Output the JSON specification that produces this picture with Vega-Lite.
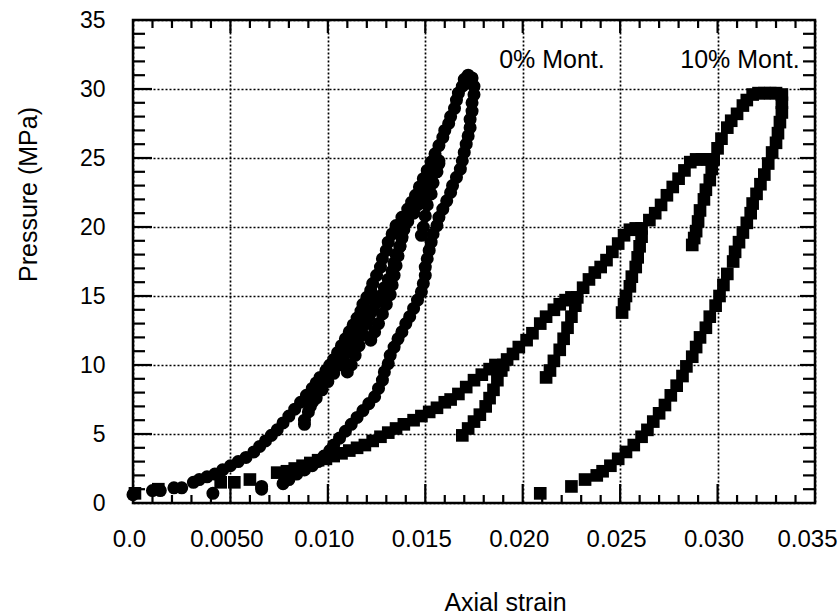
{
 "$schema": "https://vega.github.io/schema/vega-lite/v6.json",
 "width": 682, "height": 483,
 "autosize": {"type": "none"},
 "padding": {"left": 133, "top": 20, "right": 25, "bottom": 112},
 "background": "white",
 "config": {
  "view": {"stroke": "black", "strokeWidth": 2.5},
  "font": "Liberation Sans",
  "axis": {"domain": false, "labelColor": "black", "titleColor": "black",
   "labelFont": "Liberation Sans", "titleFont": "Liberation Sans", "titleFontWeight": "normal",
   "gridColor": "black", "gridDash": [2, 2], "gridWidth": 1.7, "gridOpacity": 1,
   "labelFlush": false, "labelOverlap": false}
 },
 "datasets": {
  "xmajor": [{"v":0.005},{"v":0.010},{"v":0.015},{"v":0.020},{"v":0.025},{"v":0.030}],
  "xminor": [{"v":0.001},{"v":0.002},{"v":0.003},{"v":0.004},{"v":0.006},{"v":0.007},{"v":0.008},{"v":0.009},
   {"v":0.011},{"v":0.012},{"v":0.013},{"v":0.014},{"v":0.016},{"v":0.017},{"v":0.018},{"v":0.019},
   {"v":0.021},{"v":0.022},{"v":0.023},{"v":0.024},{"v":0.026},{"v":0.027},{"v":0.028},{"v":0.029},
   {"v":0.031},{"v":0.032},{"v":0.033},{"v":0.034}],
  "ymajor": [{"v":5},{"v":10},{"v":15},{"v":20},{"v":25},{"v":30}],
  "yminor": [{"v":1},{"v":2},{"v":3},{"v":4},{"v":6},{"v":7},{"v":8},{"v":9},{"v":11},{"v":12},{"v":13},{"v":14},
   {"v":16},{"v":17},{"v":18},{"v":19},{"v":21},{"v":22},{"v":23},{"v":24},{"v":26},{"v":27},{"v":28},{"v":29},
   {"v":31},{"v":32},{"v":33},{"v":34}],
  "pts": [
{"s":"0%","x":0.0000,"y":0.6},{"s":"0%","x":0.0010,"y":0.9},{"s":"0%","x":0.0014,"y":0.9},{"s":"0%","x":0.0021,"y":1.1},{"s":"0%","x":0.0025,"y":1.1},
{"s":"0%","x":0.0031,"y":1.5},{"s":"0%","x":0.0034,"y":1.7},{"s":"0%","x":0.0038,"y":1.9},{"s":"0%","x":0.0042,"y":2.1},{"s":"0%","x":0.0046,"y":2.4},
{"s":"0%","x":0.0050,"y":2.7},{"s":"0%","x":0.0054,"y":3.0},{"s":"0%","x":0.0058,"y":3.3},{"s":"0%","x":0.0062,"y":3.7},{"s":"0%","x":0.0065,"y":4.1},
{"s":"0%","x":0.0068,"y":4.5},{"s":"0%","x":0.0071,"y":4.9},{"s":"0%","x":0.0074,"y":5.3},{"s":"0%","x":0.0077,"y":5.8},{"s":"0%","x":0.0080,"y":6.3},
{"s":"0%","x":0.0083,"y":6.8},{"s":"0%","x":0.0086,"y":7.3},{"s":"0%","x":0.0089,"y":7.8},{"s":"0%","x":0.0092,"y":8.3},{"s":"0%","x":0.0094,"y":8.7},
{"s":"0%","x":0.0096,"y":9.1},{"s":"0%","x":0.0099,"y":9.6},{"s":"0%","x":0.0101,"y":10.0},{"s":"0%","x":0.0103,"y":10.4},
{"s":"0%","x":0.0105,"y":10.9},{"s":"0%","x":0.0107,"y":11.4},{"s":"0%","x":0.0109,"y":11.9},{"s":"0%","x":0.0111,"y":12.4},{"s":"0%","x":0.0113,"y":12.9},
{"s":"0%","x":0.0115,"y":13.4},{"s":"0%","x":0.0117,"y":13.9},{"s":"0%","x":0.0118,"y":14.4},{"s":"0%","x":0.0120,"y":14.9},{"s":"0%","x":0.0122,"y":15.4},
{"s":"0%","x":0.0123,"y":15.9},{"s":"0%","x":0.0125,"y":16.5},{"s":"0%","x":0.0127,"y":17.1},{"s":"0%","x":0.0128,"y":17.7},{"s":"0%","x":0.0130,"y":18.3},
{"s":"0%","x":0.0131,"y":18.9},{"s":"0%","x":0.0133,"y":19.5},{"s":"0%","x":0.0135,"y":20.1},{"s":"0%","x":0.0138,"y":20.7},{"s":"0%","x":0.0141,"y":21.3},
{"s":"0%","x":0.0143,"y":21.8},{"s":"0%","x":0.0145,"y":22.3},{"s":"0%","x":0.0147,"y":22.9},{"s":"0%","x":0.0149,"y":23.5},{"s":"0%","x":0.0151,"y":24.1},
{"s":"0%","x":0.0153,"y":24.7},{"s":"0%","x":0.0155,"y":25.3},{"s":"0%","x":0.0157,"y":25.9},{"s":"0%","x":0.0159,"y":26.5},{"s":"0%","x":0.0160,"y":27.0},
{"s":"0%","x":0.0162,"y":27.5},{"s":"0%","x":0.0163,"y":28.0},{"s":"0%","x":0.0165,"y":28.6},{"s":"0%","x":0.0166,"y":29.2},{"s":"0%","x":0.0167,"y":29.7},
{"s":"0%","x":0.0169,"y":30.2},{"s":"0%","x":0.0170,"y":30.7},{"s":"0%","x":0.0172,"y":31.0},{"s":"0%","x":0.0174,"y":30.8},
{"s":"0%","x":0.0100,"y":9.4},{"s":"0%","x":0.0097,"y":8.7},{"s":"0%","x":0.0094,"y":8.0},{"s":"0%","x":0.0092,"y":7.3},{"s":"0%","x":0.0090,"y":6.6},
{"s":"0%","x":0.0088,"y":6.0},{"s":"0%","x":0.0088,"y":5.7},
{"s":"0%","x":0.0091,"y":7.0},{"s":"0%","x":0.0094,"y":7.6},{"s":"0%","x":0.0097,"y":8.2},{"s":"0%","x":0.0100,"y":8.8},{"s":"0%","x":0.0103,"y":9.4},
{"s":"0%","x":0.0106,"y":10.0},{"s":"0%","x":0.0108,"y":10.5},{"s":"0%","x":0.0111,"y":11.0},{"s":"0%","x":0.0113,"y":11.5},{"s":"0%","x":0.0115,"y":12.0},
{"s":"0%","x":0.0117,"y":12.5},{"s":"0%","x":0.0119,"y":13.0},{"s":"0%","x":0.0121,"y":13.5},{"s":"0%","x":0.0123,"y":14.0},{"s":"0%","x":0.0125,"y":14.5},
{"s":"0%","x":0.0127,"y":15.0},{"s":"0%","x":0.0129,"y":15.6},{"s":"0%","x":0.0131,"y":16.2},{"s":"0%","x":0.0133,"y":16.8},{"s":"0%","x":0.0134,"y":17.4},
{"s":"0%","x":0.0135,"y":18.0},{"s":"0%","x":0.0137,"y":18.6},{"s":"0%","x":0.0138,"y":19.2},{"s":"0%","x":0.0139,"y":19.8},{"s":"0%","x":0.0141,"y":20.4},
{"s":"0%","x":0.0144,"y":21.0},{"s":"0%","x":0.0146,"y":21.6},{"s":"0%","x":0.0149,"y":22.2},{"s":"0%","x":0.0151,"y":22.8},{"s":"0%","x":0.0153,"y":23.4},
{"s":"0%","x":0.0155,"y":24.0},{"s":"0%","x":0.0157,"y":24.6},
{"s":"0%","x":0.0124,"y":14.6},{"s":"0%","x":0.0122,"y":13.8},{"s":"0%","x":0.0120,"y":13.0},{"s":"0%","x":0.0118,"y":12.2},{"s":"0%","x":0.0116,"y":11.4},
{"s":"0%","x":0.0114,"y":10.7},{"s":"0%","x":0.0112,"y":10.0},{"s":"0%","x":0.0110,"y":9.5},
{"s":"0%","x":0.0139,"y":20.0},{"s":"0%","x":0.0138,"y":19.3},{"s":"0%","x":0.0137,"y":18.6},{"s":"0%","x":0.0136,"y":17.9},{"s":"0%","x":0.0135,"y":17.2},
{"s":"0%","x":0.0134,"y":16.5},{"s":"0%","x":0.0133,"y":15.8},{"s":"0%","x":0.0132,"y":15.1},{"s":"0%","x":0.0130,"y":14.4},{"s":"0%","x":0.0128,"y":13.7},
{"s":"0%","x":0.0126,"y":13.0},{"s":"0%","x":0.0124,"y":12.4},{"s":"0%","x":0.0122,"y":11.8},
{"s":"0%","x":0.0157,"y":24.8},{"s":"0%","x":0.0156,"y":24.0},{"s":"0%","x":0.0154,"y":23.2},{"s":"0%","x":0.0153,"y":22.4},{"s":"0%","x":0.0151,"y":21.6},
{"s":"0%","x":0.0150,"y":20.8},{"s":"0%","x":0.0149,"y":20.0},{"s":"0%","x":0.0148,"y":19.4},
{"s":"0%","x":0.0175,"y":30.2},{"s":"0%","x":0.0175,"y":29.6},{"s":"0%","x":0.0174,"y":29.0},{"s":"0%","x":0.0174,"y":28.4},{"s":"0%","x":0.0173,"y":27.8},
{"s":"0%","x":0.0173,"y":27.2},{"s":"0%","x":0.0172,"y":26.6},{"s":"0%","x":0.0171,"y":26.0},{"s":"0%","x":0.0170,"y":25.4},{"s":"0%","x":0.0169,"y":24.8},
{"s":"0%","x":0.0168,"y":24.2},{"s":"0%","x":0.0166,"y":23.6},{"s":"0%","x":0.0164,"y":23.0},{"s":"0%","x":0.0163,"y":22.5},{"s":"0%","x":0.0161,"y":21.9},
{"s":"0%","x":0.0159,"y":21.3},{"s":"0%","x":0.0157,"y":20.7},{"s":"0%","x":0.0156,"y":20.1},{"s":"0%","x":0.0154,"y":19.5},{"s":"0%","x":0.0153,"y":18.9},
{"s":"0%","x":0.0152,"y":18.3},{"s":"0%","x":0.0151,"y":17.7},{"s":"0%","x":0.0150,"y":17.1},{"s":"0%","x":0.0150,"y":16.5},{"s":"0%","x":0.0149,"y":15.9},
{"s":"0%","x":0.0148,"y":15.3},{"s":"0%","x":0.0146,"y":14.7},{"s":"0%","x":0.0144,"y":14.1},{"s":"0%","x":0.0142,"y":13.5},{"s":"0%","x":0.0140,"y":13.0},
{"s":"0%","x":0.0138,"y":12.4},{"s":"0%","x":0.0136,"y":11.9},{"s":"0%","x":0.0134,"y":11.3},{"s":"0%","x":0.0132,"y":10.7},{"s":"0%","x":0.0131,"y":10.1},
{"s":"0%","x":0.0129,"y":9.5},{"s":"0%","x":0.0128,"y":8.9},{"s":"0%","x":0.0126,"y":8.3},{"s":"0%","x":0.0124,"y":7.7},{"s":"0%","x":0.0121,"y":7.2},
{"s":"0%","x":0.0118,"y":6.7},{"s":"0%","x":0.0115,"y":6.2},{"s":"0%","x":0.0112,"y":5.7},{"s":"0%","x":0.0109,"y":5.2},{"s":"0%","x":0.0106,"y":4.7},
{"s":"0%","x":0.0103,"y":4.2},{"s":"0%","x":0.0101,"y":3.8},{"s":"0%","x":0.0098,"y":3.4},{"s":"0%","x":0.0095,"y":3.0},{"s":"0%","x":0.0092,"y":2.7},
{"s":"0%","x":0.0088,"y":2.4},{"s":"0%","x":0.0084,"y":2.1},{"s":"0%","x":0.0080,"y":1.7},{"s":"0%","x":0.0077,"y":1.4},{"s":"0%","x":0.0066,"y":1.2},
{"s":"0%","x":0.0066,"y":1.0},{"s":"0%","x":0.0041,"y":0.7},
{"s":"10%","x":0.0001,"y":0.7},{"s":"10%","x":0.0013,"y":1.0},{"s":"10%","x":0.0045,"y":1.5},{"s":"10%","x":0.0052,"y":1.5},{"s":"10%","x":0.0060,"y":1.7},
{"s":"10%","x":0.0074,"y":2.2},{"s":"10%","x":0.0079,"y":2.3},{"s":"10%","x":0.0083,"y":2.5},{"s":"10%","x":0.0087,"y":2.7},{"s":"10%","x":0.0091,"y":2.9},
{"s":"10%","x":0.0095,"y":3.1},{"s":"10%","x":0.0099,"y":3.2},{"s":"10%","x":0.0103,"y":3.4},{"s":"10%","x":0.0107,"y":3.6},{"s":"10%","x":0.0111,"y":3.8},
{"s":"10%","x":0.0115,"y":4.0},{"s":"10%","x":0.0119,"y":4.2},{"s":"10%","x":0.0123,"y":4.5},{"s":"10%","x":0.0127,"y":4.8},{"s":"10%","x":0.0131,"y":5.1},
{"s":"10%","x":0.0135,"y":5.4},{"s":"10%","x":0.0139,"y":5.7},{"s":"10%","x":0.0144,"y":6.0},{"s":"10%","x":0.0148,"y":6.3},{"s":"10%","x":0.0152,"y":6.6},
{"s":"10%","x":0.0156,"y":6.9},{"s":"10%","x":0.0160,"y":7.3},{"s":"10%","x":0.0163,"y":7.5},{"s":"10%","x":0.0167,"y":7.9},{"s":"10%","x":0.0171,"y":8.4},
{"s":"10%","x":0.0175,"y":8.9},{"s":"10%","x":0.0179,"y":9.3},{"s":"10%","x":0.0183,"y":9.7},{"s":"10%","x":0.0186,"y":10.0},{"s":"10%","x":0.0190,"y":10.0},
{"s":"10%","x":0.0189,"y":9.6},{"s":"10%","x":0.0187,"y":8.9},{"s":"10%","x":0.0185,"y":8.2},{"s":"10%","x":0.0183,"y":7.6},{"s":"10%","x":0.0181,"y":7.0},
{"s":"10%","x":0.0178,"y":6.4},{"s":"10%","x":0.0175,"y":5.9},{"s":"10%","x":0.0172,"y":5.4},{"s":"10%","x":0.0169,"y":4.9},
{"s":"10%","x":0.0192,"y":10.4},{"s":"10%","x":0.0195,"y":10.8},{"s":"10%","x":0.0198,"y":11.3},{"s":"10%","x":0.0202,"y":11.8},{"s":"10%","x":0.0205,"y":12.3},
{"s":"10%","x":0.0209,"y":13.0},{"s":"10%","x":0.0212,"y":13.5},{"s":"10%","x":0.0216,"y":14.0},{"s":"10%","x":0.0219,"y":14.4},{"s":"10%","x":0.0222,"y":14.7},
{"s":"10%","x":0.0225,"y":14.9},{"s":"10%","x":0.0228,"y":14.9},
{"s":"10%","x":0.0227,"y":14.3},{"s":"10%","x":0.0225,"y":13.5},{"s":"10%","x":0.0223,"y":12.7},{"s":"10%","x":0.0221,"y":11.9},{"s":"10%","x":0.0219,"y":11.1},
{"s":"10%","x":0.0216,"y":10.3},{"s":"10%","x":0.0214,"y":9.6},{"s":"10%","x":0.0212,"y":9.1},
{"s":"10%","x":0.0231,"y":15.6},{"s":"10%","x":0.0234,"y":16.2},{"s":"10%","x":0.0237,"y":16.7},{"s":"10%","x":0.0240,"y":17.1},{"s":"10%","x":0.0243,"y":17.6},
{"s":"10%","x":0.0246,"y":18.2},{"s":"10%","x":0.0249,"y":18.8},{"s":"10%","x":0.0252,"y":19.4},{"s":"10%","x":0.0255,"y":19.8},{"s":"10%","x":0.0258,"y":19.9},
{"s":"10%","x":0.0261,"y":19.9},
{"s":"10%","x":0.0261,"y":19.3},{"s":"10%","x":0.0260,"y":18.6},{"s":"10%","x":0.0259,"y":17.8},{"s":"10%","x":0.0258,"y":17.1},{"s":"10%","x":0.0256,"y":16.4},
{"s":"10%","x":0.0255,"y":15.7},{"s":"10%","x":0.0253,"y":15.0},{"s":"10%","x":0.0252,"y":14.4},{"s":"10%","x":0.0251,"y":13.8},
{"s":"10%","x":0.0265,"y":20.5},{"s":"10%","x":0.0268,"y":21.0},{"s":"10%","x":0.0271,"y":21.6},{"s":"10%","x":0.0274,"y":22.3},{"s":"10%","x":0.0277,"y":22.9},
{"s":"10%","x":0.0280,"y":23.5},{"s":"10%","x":0.0283,"y":24.1},{"s":"10%","x":0.0286,"y":24.7},{"s":"10%","x":0.0289,"y":24.9},{"s":"10%","x":0.0292,"y":24.9},
{"s":"10%","x":0.0295,"y":24.9},{"s":"10%","x":0.0298,"y":24.9},
{"s":"10%","x":0.0297,"y":24.2},{"s":"10%","x":0.0296,"y":23.4},{"s":"10%","x":0.0294,"y":22.7},{"s":"10%","x":0.0293,"y":22.0},{"s":"10%","x":0.0291,"y":21.2},
{"s":"10%","x":0.0290,"y":20.4},{"s":"10%","x":0.0289,"y":19.7},{"s":"10%","x":0.0288,"y":19.2},{"s":"10%","x":0.0287,"y":18.7},
{"s":"10%","x":0.0300,"y":25.7},{"s":"10%","x":0.0302,"y":26.4},{"s":"10%","x":0.0305,"y":27.2},{"s":"10%","x":0.0307,"y":27.7},{"s":"10%","x":0.0310,"y":28.2},
{"s":"10%","x":0.0313,"y":28.8},{"s":"10%","x":0.0315,"y":29.2},{"s":"10%","x":0.0318,"y":29.6},{"s":"10%","x":0.0321,"y":29.7},{"s":"10%","x":0.0324,"y":29.7},
{"s":"10%","x":0.0327,"y":29.7},{"s":"10%","x":0.0330,"y":29.7},{"s":"10%","x":0.0333,"y":29.6},
{"s":"10%","x":0.0333,"y":29.0},{"s":"10%","x":0.0333,"y":28.3},{"s":"10%","x":0.0332,"y":27.6},{"s":"10%","x":0.0331,"y":26.8},{"s":"10%","x":0.0330,"y":26.1},
{"s":"10%","x":0.0328,"y":25.4},{"s":"10%","x":0.0326,"y":24.6},{"s":"10%","x":0.0324,"y":23.8},{"s":"10%","x":0.0322,"y":23.1},{"s":"10%","x":0.0320,"y":22.4},
{"s":"10%","x":0.0318,"y":21.7},{"s":"10%","x":0.0317,"y":21.0},{"s":"10%","x":0.0315,"y":20.3},{"s":"10%","x":0.0313,"y":19.6},{"s":"10%","x":0.0311,"y":18.9},
{"s":"10%","x":0.0309,"y":18.2},{"s":"10%","x":0.0308,"y":17.5},{"s":"10%","x":0.0305,"y":16.6},{"s":"10%","x":0.0303,"y":15.8},{"s":"10%","x":0.0301,"y":15.0},
{"s":"10%","x":0.0299,"y":14.3},{"s":"10%","x":0.0296,"y":13.5},{"s":"10%","x":0.0294,"y":12.7},{"s":"10%","x":0.0291,"y":12.0},{"s":"10%","x":0.0289,"y":11.3},
{"s":"10%","x":0.0287,"y":10.6},{"s":"10%","x":0.0284,"y":9.9},{"s":"10%","x":0.0282,"y":9.2},{"s":"10%","x":0.0279,"y":8.5},{"s":"10%","x":0.0276,"y":7.8},
{"s":"10%","x":0.0273,"y":7.1},{"s":"10%","x":0.0270,"y":6.5},{"s":"10%","x":0.0267,"y":5.9},{"s":"10%","x":0.0264,"y":5.3},{"s":"10%","x":0.0261,"y":4.8},
{"s":"10%","x":0.0257,"y":4.2},{"s":"10%","x":0.0253,"y":3.7},{"s":"10%","x":0.0249,"y":3.2},{"s":"10%","x":0.0245,"y":2.7},{"s":"10%","x":0.0241,"y":2.3},
{"s":"10%","x":0.0238,"y":2.0},{"s":"10%","x":0.0232,"y":1.7},{"s":"10%","x":0.0225,"y":1.2},{"s":"10%","x":0.0209,"y":0.7}
  ],
  "notes": [
   {"label": "0% Mont.", "x": 0.0215, "y": 32.1},
   {"label": "10% Mont.", "x": 0.03115, "y": 32.1}
  ]
 },
 "layer": [
  {
   "data": {"name": "pts"},
   "mark": {"type": "point", "filled": true, "opacity": 1, "strokeWidth": 0},
   "encoding": {
    "x": {"field": "x", "type": "quantitative",
     "scale": {"domain": [0, 0.035], "nice": false, "zero": false},
     "axis": {"orient": "bottom", "values": [0, 0.005, 0.01, 0.015, 0.02, 0.025, 0.03, 0.035],
      "labelExpr": "datum.value == 0 ? '0.0' : (datum.value < 0.006 ? '0.0050' : format(datum.value, '.3f'))",
      "ticks": false, "labelPadding": 24, "labelFontSize": 24, "labelBaseline": "top",
      "labelOffset": {"condition": {"test": "datum.value > 0.034", "value": -8}, "value": -4},
      "grid": true,
      "title": "Axial strain", "titleFontSize": 25, "titleX": 372, "titleY": 107,
      "titleAlign": "center", "titleBaseline": "alphabetic"}},
    "y": {"field": "y", "type": "quantitative",
     "scale": {"domain": [0, 35], "nice": false, "zero": false},
     "axis": {"orient": "left", "values": [0, 5, 10, 15, 20, 25, 30, 35],
      "ticks": false, "labelPadding": 28, "labelFontSize": 23, "grid": true,
      "title": "Pressure (MPa)", "titleFontSize": 25, "titleX": -105, "titleY": 174,
      "titleAngle": 270, "titleAlign": "center", "titleBaseline": "middle"}},
    "shape": {"field": "s", "type": "nominal", "scale": {"domain": ["0%", "10%"], "range": ["circle", "square"]}, "legend": null},
    "size": {"field": "s", "type": "ordinal", "scale": {"domain": ["0%", "10%"], "range": [170, 160]}, "legend": null},
    "color": {"value": "black"}
   }
  },
  {
   "data": {"name": "xmajor"},
   "mark": {"type": "tick", "orient": "vertical", "size": 19, "thickness": 2.2, "yOffset": -9.5, "color": "black", "opacity": 1},
   "encoding": {"x": {"field": "v", "type": "quantitative", "axis": null}, "y": {"datum": 0, "type": "quantitative", "axis": null}}
  },
  {
   "data": {"name": "xminor"},
   "mark": {"type": "tick", "orient": "vertical", "size": 8, "thickness": 2.2, "yOffset": -4, "color": "black", "opacity": 1},
   "encoding": {"x": {"field": "v", "type": "quantitative", "axis": null}, "y": {"datum": 0, "type": "quantitative", "axis": null}}
  },
  {
   "data": {"name": "xmajor"},
   "mark": {"type": "tick", "orient": "vertical", "size": 13, "thickness": 2.2, "yOffset": 6.5, "color": "black", "opacity": 1},
   "encoding": {"x": {"field": "v", "type": "quantitative", "axis": null}, "y": {"datum": 35, "type": "quantitative", "axis": null}}
  },
  {
   "data": {"name": "xminor"},
   "mark": {"type": "tick", "orient": "vertical", "size": 8, "thickness": 2.2, "yOffset": 4, "color": "black", "opacity": 1},
   "encoding": {"x": {"field": "v", "type": "quantitative", "axis": null}, "y": {"datum": 35, "type": "quantitative", "axis": null}}
  },
  {
   "data": {"name": "ymajor"},
   "mark": {"type": "tick", "orient": "horizontal", "size": 19, "thickness": 2.2, "xOffset": 9.5, "color": "black", "opacity": 1},
   "encoding": {"y": {"field": "v", "type": "quantitative", "axis": null}, "x": {"datum": 0, "type": "quantitative", "axis": null}}
  },
  {
   "data": {"name": "yminor"},
   "mark": {"type": "tick", "orient": "horizontal", "size": 12, "thickness": 2.2, "xOffset": 6, "color": "black", "opacity": 1},
   "encoding": {"y": {"field": "v", "type": "quantitative", "axis": null}, "x": {"datum": 0, "type": "quantitative", "axis": null}}
  },
  {
   "data": {"name": "ymajor"},
   "mark": {"type": "tick", "orient": "horizontal", "size": 15, "thickness": 2.2, "xOffset": -7.5, "color": "black", "opacity": 1},
   "encoding": {"y": {"field": "v", "type": "quantitative", "axis": null}, "x": {"datum": 0.035, "type": "quantitative", "axis": null}}
  },
  {
   "data": {"name": "yminor"},
   "mark": {"type": "tick", "orient": "horizontal", "size": 12, "thickness": 2.2, "xOffset": -6, "color": "black", "opacity": 1},
   "encoding": {"y": {"field": "v", "type": "quantitative", "axis": null}, "x": {"datum": 0.035, "type": "quantitative", "axis": null}}
  },
  {
   "data": {"name": "notes"},
   "mark": {"type": "text", "fontSize": 25, "font": "Liberation Sans", "align": "center", "baseline": "middle", "color": "black"},
   "encoding": {
    "x": {"field": "x", "type": "quantitative", "axis": null},
    "y": {"field": "y", "type": "quantitative", "axis": null},
    "text": {"field": "label", "type": "nominal"}
   }
  }
 ],
 "resolve": {"axis": {"x": "independent", "y": "independent"}}
}
